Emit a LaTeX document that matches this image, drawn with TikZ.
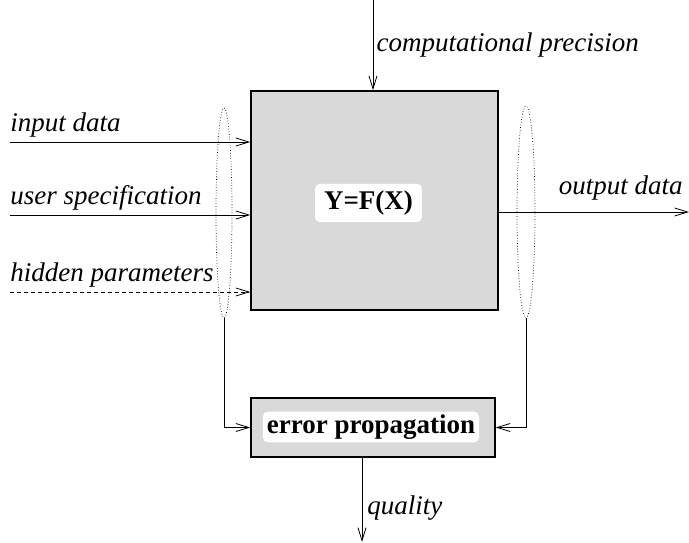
\documentclass[tikz,border=0pt]{standalone}
\usepackage{fontspec}
\setmainfont{Liberation Serif}
\usepackage{xcolor}
\usepackage{tikz}
\usetikzlibrary{shapes,arrows.meta,positioning,calc}
\definecolor{procgray}{RGB}{217, 217, 217}

\begin{document}
\begin{tikzpicture}[x=1pt, y=1pt, >={Straight Barb[length=13pt,width=8pt]},
    procbox/.style={draw=black, line width=1.6pt, fill=procgray, rectangle},
    tagbox/.style={fill=white, rounded corners=5pt, font=\fontsize{27}{30}\selectfont\bfseries},
    bundle/.style={draw, dotted, ellipse, line width=0.7pt, inner sep=0pt},
    flow/.style={->, line width=0.8pt},
    lbl/.style={font=\fontsize{27}{30}\selectfont\itshape}]
    \useasboundingbox (0,0) rectangle (689,542);

    % Nodes
    \node [procbox, minimum width=247pt, minimum height=219pt] (model) at (374.5, 341.5) {};
    \node [tagbox, inner xsep=9pt, inner ysep=7pt] (fx) at (368.5, 339) {Y=F(X)};
    \node [procbox, minimum width=244pt, minimum height=59pt] (err) at (373, 114.5) {};
    \node [tagbox, inner xsep=4pt, inner ysep=3pt] (errtag) at (371, 115) {error propagation};

    % Dotted groupings of inputs and outputs
    \node [bundle, minimum width=16pt, minimum height=210pt] (inbundle) at (224, 329) {};
    \node [bundle, minimum width=18pt, minimum height=212pt] (outbundle) at (526, 330) {};

    % Free ends
    \coordinate (in1) at (10, 400);
    \coordinate (in2) at (10, 327);
    \coordinate (in3) at (10, 250);
    \coordinate (prec) at (373, 542);
    \coordinate (outp) at (689, 330);
    \coordinate (qual) at (362, 0);

    % Inputs
    \draw [flow] (in1) node[lbl, anchor=south west, inner xsep=0pt, inner ysep=4pt] {input data} -- (in1 -| model.west);
    \draw [flow] (in2) node[lbl, anchor=south west, inner xsep=0pt, inner ysep=4pt] {user specification} -- (in2 -| model.west);
    \draw [flow, dash pattern=on 4pt off 3pt] (in3) node[lbl, anchor=south west, inner xsep=0pt, inner ysep=4pt] {hidden parameters} -- (in3 -| model.west);
    \draw [flow] (prec) -- (prec |- model.north) node[lbl, midway, right] {computational precision};

    % Output
    \draw [flow] (outp -| model.east) -- (outp) node[lbl, anchor=south east, inner xsep=6pt, inner ysep=11pt] {output data};

    % Error propagation path
    \draw [flow] (inbundle.south) |- (err.west);
    \draw [flow] (outbundle.south) |- (err.east);
    \draw [flow] (qual |- err.south) -- (qual) node[lbl, pos=0.6, right, inner xsep=5pt] {quality};
\end{tikzpicture}
\end{document}
